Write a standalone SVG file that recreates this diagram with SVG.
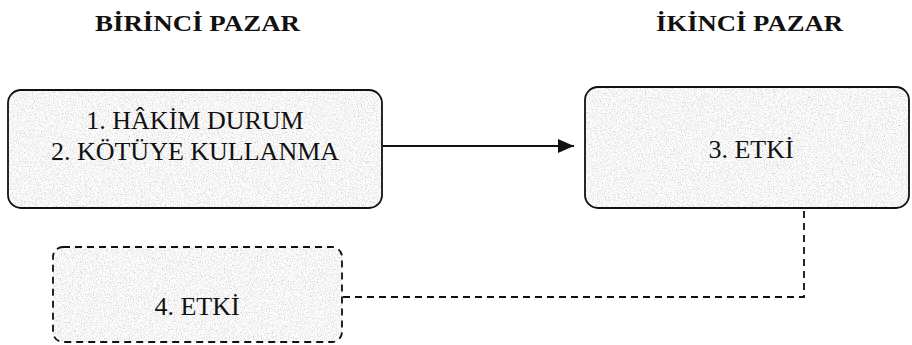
<svg xmlns="http://www.w3.org/2000/svg" width="912" height="345" viewBox="0 0 912 345">
  <style>
    .title { font-family: "Liberation Serif", "Times New Roman", serif; font-weight: bold; font-size: 23px; fill: #111; }
    .label { font-family: "Liberation Serif", "Times New Roman", serif; font-size: 26px; fill: #111; text-anchor: middle; }
    .fill { fill: #e6e6e6; filter: url(#granite); }
    .frame { fill: none; stroke: #111; stroke-width: 1.8; }
    .dashed { stroke-dasharray: 7 5; }
    .link { fill: none; stroke: #111; stroke-width: 1.8; }
  </style>
  <defs>
    <!-- speckled grey stone texture for the box fills -->
    <filter id="granite" x="0" y="0" width="100%" height="100%">
      <feTurbulence type="fractalNoise" baseFrequency="0.75" numOctaves="3" seed="4" result="noise"/>
      <feColorMatrix in="noise" type="matrix" values="0.8 0 0 0 0.52  0.8 0 0 0 0.52  0.8 0 0 0 0.52  0 0 0 0 1" result="grey"/>
      <feComposite in="grey" in2="SourceGraphic" operator="in"/>
    </filter>
    <marker id="arrow" viewBox="0 0 16 14" refX="16" refY="7" markerWidth="16" markerHeight="14" markerUnits="userSpaceOnUse" orient="auto">
      <path d="M0,0 L16,7 L0,14 Z" fill="#111"/>
    </marker>
  </defs>

  <!-- column headings -->
  <text class="title" x="95" y="31" textLength="205" lengthAdjust="spacingAndGlyphs">BİRİNCİ PAZAR</text>
  <text class="title" x="656" y="31" textLength="187" lengthAdjust="spacingAndGlyphs">İKİNCİ PAZAR</text>

  <!-- connectors -->
  <g id="connectors">
    <line class="link" x1="383" y1="146" x2="574" y2="146" marker-end="url(#arrow)"/>
    <polyline class="link dashed" points="343,297 804,297 804,209"/>
  </g>

  <g id="node-abuse">
    <rect class="fill" x="8" y="90" width="374" height="118" rx="13"/>
    <rect class="frame" x="8" y="90" width="374" height="118" rx="13"/>
    <text class="label" x="195" y="129">1. HÂKİM DURUM</text>
    <text class="label" x="195" y="160">2. KÖTÜYE KULLANMA</text>
  </g>

  <g id="node-effect3">
    <rect class="fill" x="585" y="87" width="324" height="121" rx="13"/>
    <rect class="frame" x="585" y="87" width="324" height="121" rx="13"/>
    <text class="label" x="751" y="158">3. ETKİ</text>
  </g>

  <g id="node-effect4">
    <rect class="fill" x="53" y="247" width="289" height="95" rx="10"/>
    <rect class="frame dashed" x="53" y="247" width="289" height="95" rx="10"/>
    <text class="label" x="197" y="315">4. ETKİ</text>
  </g>
</svg>
